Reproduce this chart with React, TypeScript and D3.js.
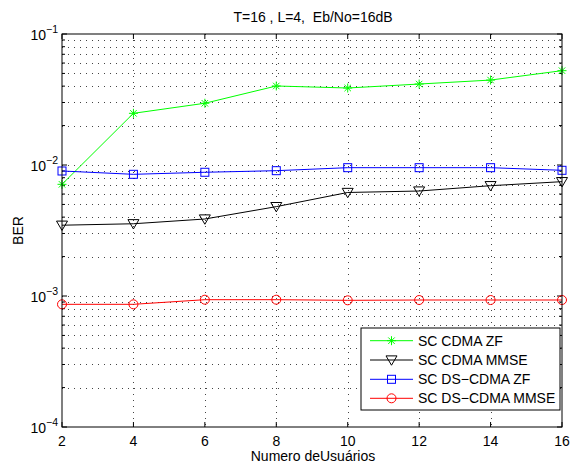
import React from 'react';
import * as d3 from 'd3';

const users = [2, 4, 6, 8, 10, 12, 14, 16];
const cdmaZF = [0.00712, 0.0248, 0.0296, 0.0401, 0.0387, 0.0415, 0.0445, 0.0525];
const cdmaMMSE = [0.00347, 0.00356, 0.00387, 0.00481, 0.00617, 0.00633, 0.00695, 0.00746];
const dsZF = [0.0090, 0.00849, 0.0088, 0.00905, 0.00954, 0.00954, 0.00954, 0.00911];
const dsMMSE = [0.000864, 0.000864, 0.000937, 0.000937, 0.000927, 0.000932, 0.000932, 0.000932];
const seriesNames = ['SC CDMA ZF', 'SC CDMA MMSE', 'SC DS\u2212CDMA ZF', 'SC DS\u2212CDMA MMSE'];
const seriesColors = ['#00ff00', '#000000', '#0000ff', '#ff0000'];
const markers = ['star', 'tri', 'square', 'circle'];
const yDecades = [-4, -3, -2, -1];

const W = 570, H = 463;
const left = 62, right = 562, top = 34, bottom = 427;
const font = 'Liberation Sans, Arial, Helvetica, sans-serif';

const x = d3.scaleLinear().domain([2, 16]).range([left, right]);
const y = d3.scaleLog().domain([1e-4, 1e-1]).range([bottom, top]);

function Marker({ kind, cx, cy, color }: { kind: string; cx: number; cy: number; color: string }) {
  if (kind === 'star') {
    const r = 4.5, d = r * 0.72;
    return (
      <path
        d={`M${cx - r},${cy}H${cx + r}M${cx},${cy - r}V${cy + r}M${cx - d},${cy - d}L${cx + d},${cy + d}M${cx - d},${cy + d}L${cx + d},${cy - d}`}
        stroke={color} strokeWidth={1} fill="none" />
    );
  }
  if (kind === 'tri') {
    const r = 5.5;
    return <path d={`M${cx - r},${cy - r * 0.75}L${cx + r},${cy - r * 0.75}L${cx},${cy + r * 0.95}Z`} stroke={color} fill="none" strokeWidth={1} />;
  }
  if (kind === 'square') {
    const r = 4;
    return <rect x={cx - r} y={cy - r} width={2 * r} height={2 * r} stroke={color} fill="none" strokeWidth={1} />;
  }
  return <circle cx={cx} cy={cy} r={4.5} stroke={color} fill="none" strokeWidth={1} />;
}

export default function App() {
  const allSeries = [cdmaZF, cdmaMMSE, dsZF, dsMMSE];
  const line = d3.line<number>().x((_, i) => x(users[i])).y(v => y(v));

  const minorVals: number[] = [];
  yDecades.slice(0, 3).forEach(p => {
    for (let k = 2; k <= 9; k++) minorVals.push(k * Math.pow(10, p));
  });
  const gridY = [...minorVals, 1e-3, 1e-2];

  const lx0 = 361, lx1 = 560, ly0 = 328, ly1 = 410;
  const legendY = [340.7, 360, 379.3, 398.3];

  return (
    <svg width={W} height={H} style={{ position: 'absolute', left: 0, top: 0, background: '#fff' }} fontFamily={font}>
      <rect x={0} y={0} width={W} height={H} fill="#fff" />
      {/* grid */}
      <g stroke="#444" strokeWidth={1} strokeDasharray="1 5" fill="none">
        {gridY.map((v, i) => (
          <line key={'gy' + i} x1={left} x2={right} y1={Math.round(y(v)) + 0.5} y2={Math.round(y(v)) + 0.5} />
        ))}
        {users.slice(1, -1).map(u => (
          <line key={'gx' + u} x1={Math.round(x(u)) + 0.5} x2={Math.round(x(u)) + 0.5} y1={top} y2={bottom} />
        ))}
      </g>
      {/* ticks */}
      <g stroke="#000" strokeWidth={1}>
        {users.map(u => (
          <g key={'tx' + u}>
            <line x1={x(u)} x2={x(u)} y1={bottom} y2={bottom - 5} />
            <line x1={x(u)} x2={x(u)} y1={top} y2={top + 5} />
          </g>
        ))}
        {yDecades.map(p => (
          <g key={'ty' + p}>
            <line x1={left} x2={left + 5} y1={y(Math.pow(10, p))} y2={y(Math.pow(10, p))} />
            <line x1={right} x2={right - 5} y1={y(Math.pow(10, p))} y2={y(Math.pow(10, p))} />
          </g>
        ))}
        {minorVals.map((v, i) => (
          <g key={'tm' + i}>
            <line x1={left} x2={left + 3} y1={y(v)} y2={y(v)} />
            <line x1={right} x2={right - 3} y1={y(v)} y2={y(v)} />
          </g>
        ))}
      </g>
      {/* series */}
      {allSeries.map((s, si) => (
        <g key={'s' + si}>
          <path d={line(s) || ''} stroke={seriesColors[si]} strokeWidth={1} fill="none" />
          {s.map((v, i) => (
            <Marker key={i} kind={markers[si]} cx={x(users[i])} cy={y(v)} color={seriesColors[si]} />
          ))}
        </g>
      ))}
      {/* axes box */}
      <rect x={left} y={top} width={right - left} height={bottom - top} fill="none" stroke="#000" strokeWidth={1} />
      {/* tick labels */}
      <g fontSize={14} fill="#000">
        {users.map(u => (
          <text key={'lx' + u} x={x(u)} y={446} textAnchor="middle">{u}</text>
        ))}
        {yDecades.map(p => (
          <text key={'ly' + p} x={58} y={y(Math.pow(10, p)) + 6} textAnchor="end">
            <tspan>10</tspan>
            <tspan fontSize={10.5} dy={-7}>{'\u2212' + Math.abs(p)}</tspan>
          </text>
        ))}
      </g>
      <text x={313} y={22} textAnchor="middle" fontSize={14} style={{ whiteSpace: 'pre' }}>T=16 , L=4,  Eb/No=16dB</text>
      <text x={313} y={460.5} textAnchor="middle" fontSize={14}>Numero deUsuários</text>
      <text transform={`translate(23,${(top + bottom) / 2}) rotate(-90)`} textAnchor="middle" fontSize={14}>BER</text>
      {/* legend */}
      <rect x={lx0} y={ly0} width={lx1 - lx0} height={ly1 - ly0} fill="#fff" stroke="#000" strokeWidth={1} />
      {seriesNames.map((n, i) => (
        <g key={'lg' + i}>
          <line x1={370} x2={413} y1={legendY[i]} y2={legendY[i]} stroke={seriesColors[i]} strokeWidth={1} />
          <Marker kind={markers[i]} cx={391.5} cy={legendY[i]} color={seriesColors[i]} />
          <text x={418} y={legendY[i] + 5} fontSize={14}>{n}</text>
        </g>
      ))}
    </svg>
  );
}
